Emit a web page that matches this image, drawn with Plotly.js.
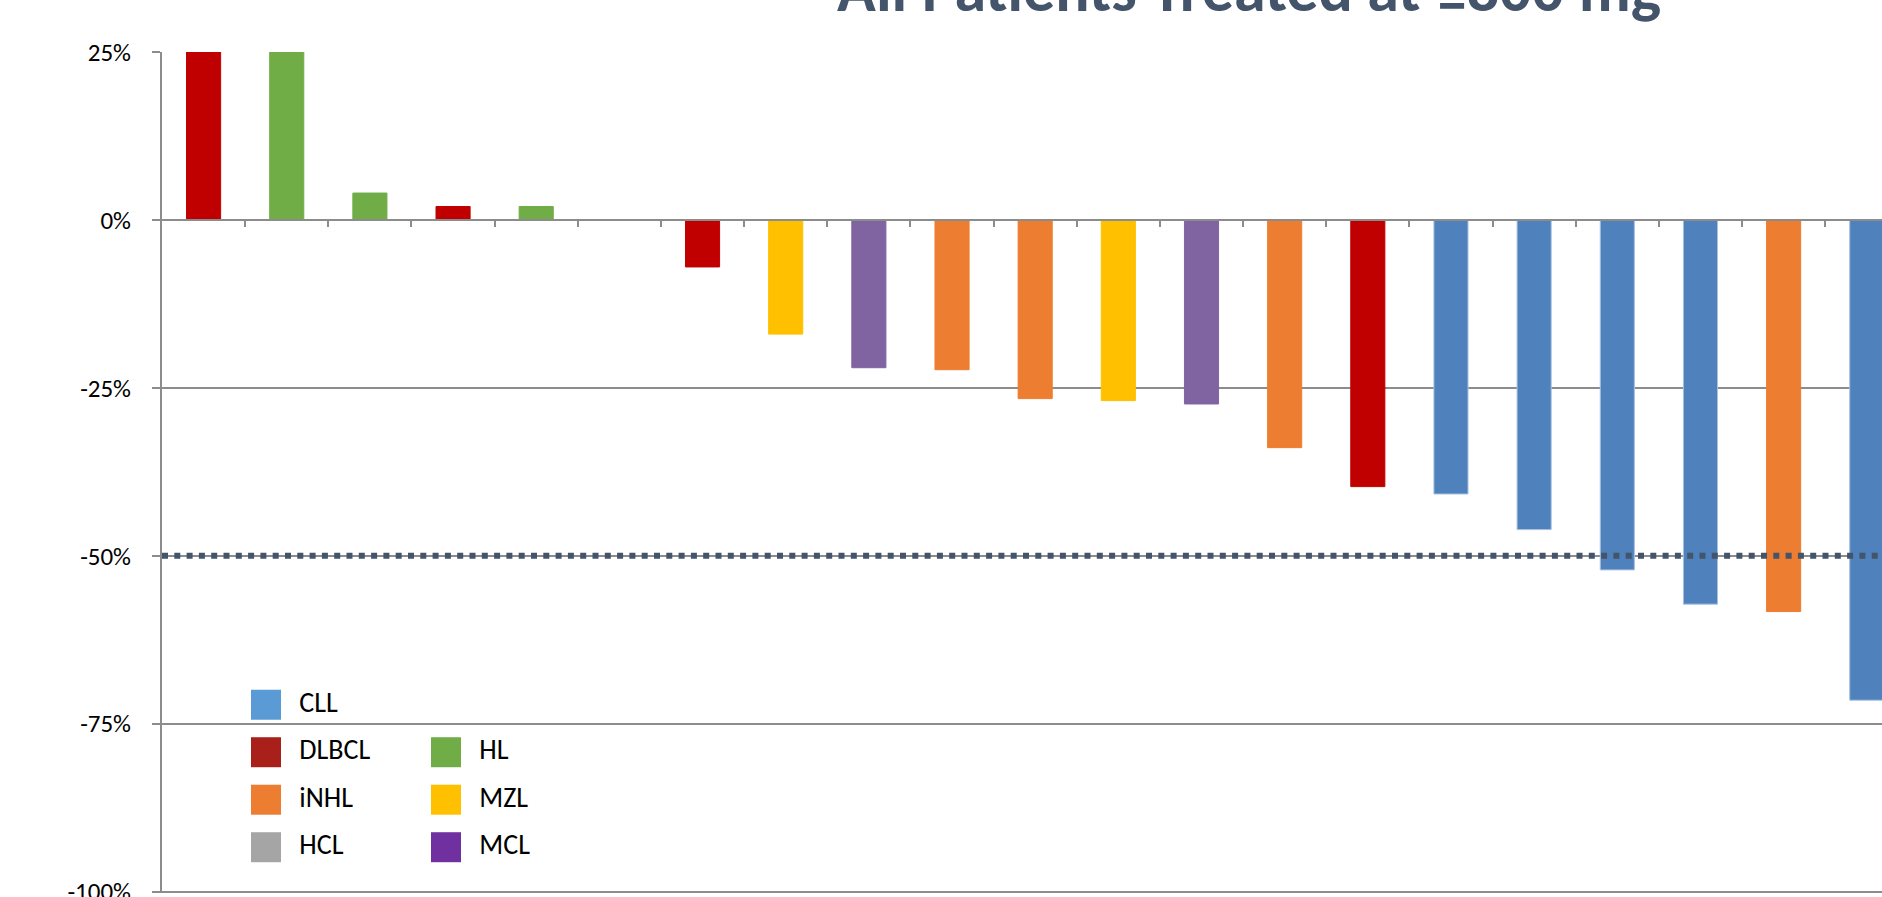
<!DOCTYPE html>
<html>
<head>
<meta charset="utf-8">
<script src="https://cdn.plot.ly/plotly-3.0.1.min.js"></script>
<style>
  html, body { margin: 0; padding: 0; background: #ffffff; overflow: hidden; }
  #chart { width: 1882px; height: 897px; }
</style>
</head>
<body>
<div id="chart"></div>
<script>
// ---------------- data ----------------
const patients = [1, 2, 3, 4, 5, 6, 7, 8, 9, 10, 11, 12, 13, 14, 15, 16, 17, 18, 19, 20, 21];
const diagnosis = ['DLBCL', 'HL', 'HL', 'DLBCL', 'HL', 'HCL', 'DLBCL', 'MZL', 'MCL', 'iNHL', 'iNHL',
                   'MZL', 'MCL', 'iNHL', 'DLBCL', 'CLL', 'CLL', 'CLL', 'CLL', 'iNHL', 'CLL'];
const changePct = [30, 30, 4, 2, 2, 0, -7, -17, -22, -22.3, -26.6, -26.9, -27.4, -33.9, -39.7,
                   -40.8, -46.1, -52.1, -57.2, -58.3, -71.5];
const yTickValues = [-100, -75, -50, -25, 0, 25];
const yTickLabels = yTickValues.map(v => v + '%');
const responseThreshold = -50;
const legendLabels = ['CLL', 'DLBCL', 'HL', 'iNHL', 'MZL', 'HCL', 'MCL'];
const legendColors = ['#5B9BD5', '#A9201A', '#70AD47', '#ED7D31', '#FFC000', '#A5A5A5', '#7030A0'];
const barColors = { CLL: '#4F81BD', DLBCL: '#C00000', HL: '#70AD47', iNHL: '#ED7D31',
                    MZL: '#FFC000', HCL: '#A5A5A5', MCL: '#8064A2' };
const titleText = 'All Patients Treated at ≥800 mg';

// ---------------- layout helpers ----------------
const FONT = 'Carlito, Calibri, Lato, "Open Sans", sans-serif';
const AXIS_GRAY = '#8c8c8c';
const yMin = -100.2, yMax = 25;
const xStart = 0.5, visibleCats = 20.683;
const legendTextOffset = 0.185;   // legend label offset from swatch, in legend-column units

// legend grid: first entry alone, then two columns
const legendCol = legendLabels.map((_, i) => i === 0 ? 0 : (i - 1) % 2);
const legendRow = legendLabels.map((_, i) => i === 0 ? 0 : 1 + Math.floor((i - 1) / 2));

const barTrace = {
  type: 'bar',
  x: patients,
  y: changePct,
  marker: {
    color: diagnosis.map(d => barColors[d]),
    line: { color: diagnosis.map(d => d === 'CLL' ? '#A9C1DF' : barColors[d]), width: 1 }
  },
  hoverinfo: 'x+y',
  showlegend: false
};

const legendSwatches = {
  type: 'scatter',
  mode: 'markers',
  x: legendCol,
  y: legendRow,
  marker: { symbol: 'square', size: 30, color: legendColors, line: { width: 0 } },
  xaxis: 'x2', yaxis: 'y2',
  cliponaxis: false,
  hoverinfo: 'skip',
  showlegend: false
};

const legendTexts = {
  type: 'scatter',
  mode: 'text',
  x: legendCol.map(c => c + legendTextOffset),
  y: legendRow,
  text: legendLabels,
  textposition: 'middle right',
  textfont: { family: FONT, size: 28, color: '#000000' },
  xaxis: 'x2', yaxis: 'y2',
  cliponaxis: false,
  hoverinfo: 'skip',
  showlegend: false
};

const layout = {
  width: 1882,
  height: 897,
  margin: { l: 162, r: 0, t: 52, b: 3.7, pad: 0 },
  paper_bgcolor: '#ffffff',
  plot_bgcolor: 'rgba(0,0,0,0)',
  showlegend: false,
  bargap: 0.59,
  font: { family: FONT, color: '#000000' },
  title: {
    text: titleText,
    font: { family: FONT, size: 64, color: '#44546A', weight: 'bold' },
    xref: 'container', x: 0.6637, xanchor: 'center',
    yref: 'paper', y: 1, yanchor: 'bottom',
    pad: { b: 41 }
  },
  xaxis: {
    type: 'linear',
    range: [xStart, xStart + visibleCats],
    anchor: 'free',
    position: (0 - yMin) / (yMax - yMin),
    showline: true, linecolor: AXIS_GRAY, linewidth: 2,
    ticks: 'outside', ticklen: 6, tickwidth: 2, tickcolor: AXIS_GRAY,
    tickmode: 'array',
    tickvals: patients.slice(0, -1).map(p => p + 0.5),
    showticklabels: false,
    showgrid: false, zeroline: false, fixedrange: true
  },
  yaxis: {
    range: [yMin, yMax],
    tickmode: 'array', tickvals: yTickValues, ticktext: yTickLabels,
    tickfont: { family: FONT, size: 25, color: '#000000' },
    ticks: 'outside', ticklen: 8, tickwidth: 2, tickcolor: AXIS_GRAY,
    ticklabelstandoff: 16,
    ticklabeloverflow: 'allow',
    showline: true, linecolor: AXIS_GRAY, linewidth: 2,
    showgrid: true, gridcolor: AXIS_GRAY, gridwidth: 2,
    zeroline: false, fixedrange: true
  },
  xaxis2: {
    domain: [0.03953, 0.22791], range: [-0.2, 1.6], anchor: 'y2',
    visible: false, fixedrange: true
  },
  yaxis2: {
    domain: [0.0375, 0.2408], range: [3.3, -0.3], anchor: 'x2',
    visible: false, fixedrange: true
  },
  shapes: [{
    type: 'line', xref: 'paper', x0: 0, x1: 1,
    yref: 'y', y0: responseThreshold, y1: responseThreshold,
    line: { color: '#44546A', width: 6, dash: '6px,6.3px' },
    layer: 'above'
  }]
};

Plotly.newPlot('chart', [barTrace, legendSwatches, legendTexts], layout, { displayModeBar: false, staticPlot: true });
</script>
</body>
</html>
